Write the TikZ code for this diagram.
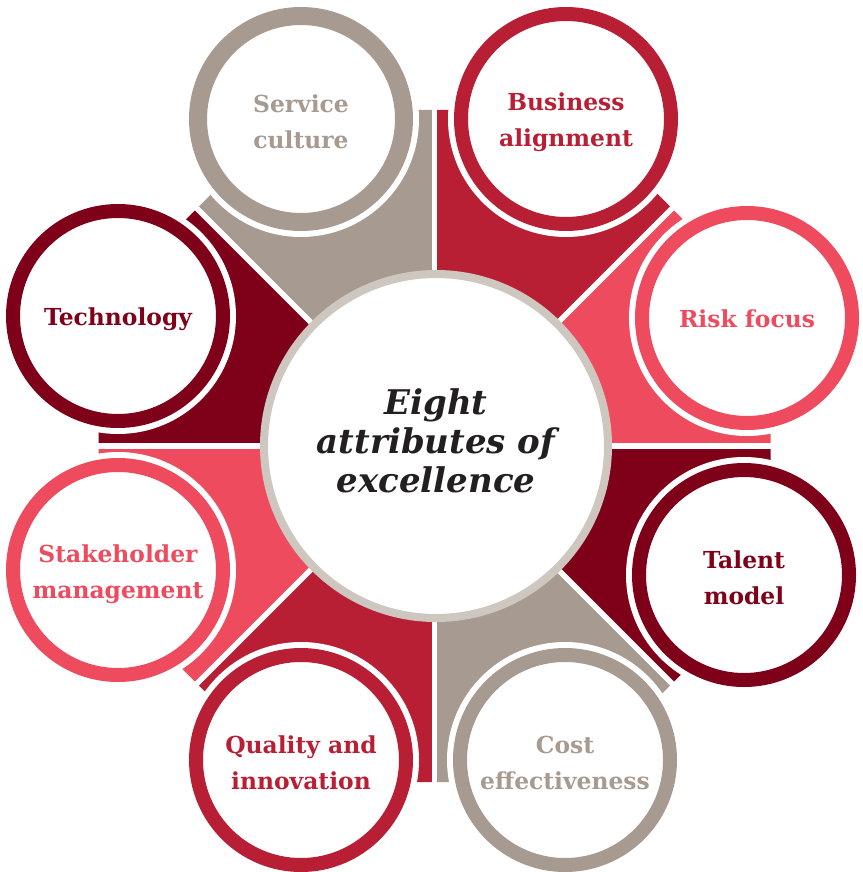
\documentclass[tikz,border=0pt]{standalone}
\usepackage{fontspec}
\setmainfont{DejaVu Serif}
\definecolor{attrgrey}{HTML}{A69A91}
\definecolor{attrred}{HTML}{B81F34}
\definecolor{attrpink}{HTML}{EE4B5E}
\definecolor{attrdark}{HTML}{7F0019}
\definecolor{hubrim}{HTML}{CDC7C0}
\definecolor{hubtext}{HTML}{231F20}
\tikzset{
  satellite/.style={circle, inner sep=0pt, minimum size=210pt, line width=14pt,
    draw=#1, fill=white,
    preaction={draw=white, line width=26pt}},
  thickrim/.style={minimum size=206pt, line width=18pt,
    preaction={draw=white, line width=30pt}},
  attrlabel/.style={inner sep=0pt, text=#1, align=center,
    font=\bfseries\fontsize{23.4}{36}\selectfont},
  hub/.style={circle, inner sep=0pt, minimum size=344pt, line width=8pt,
    draw=hubrim, fill=white},
  hublabel/.style={inner sep=0pt, text=hubtext, align=center,
    font=\bfseries\itshape\fontsize{34}{39}\selectfont},
  divider/.style={white, line width=5.5pt}
}
\begin{document}
\begin{tikzpicture}[x=1pt, y=-1pt]
\useasboundingbox (0,0) rectangle (862,872);
\coordinate (C) at (434.5,446);
% coloured sectors behind the circles, one per 45 degrees
\foreach \a/\col in {0/attrpink, 45/attrred, 90/attrgrey, 135/attrdark,
                     180/attrpink, 225/attrred, 270/attrgrey, 315/attrdark}{
  \fill[\col] (C) -- +(-\a:336) -- +(-\a-22.5:363.7) -- +(-\a-45:336) -- cycle;
}
% white separators between the sectors
\foreach \a in {0,45,...,315}{
  \draw[divider] (C) -- +(-\a:345);
}
% central hub
\node[hub] (hub) at (436,446) {};
\node[hublabel] (hubtitle) at ([yshift=5pt]hub.center) {Eight\\attributes of\\excellence};
% the eight attribute rings
\node[satellite=attrgrey, thickrim] (service) at (301,119) {};
\node[satellite=attrred] (business) at (566,119) {};
\node[satellite=attrpink] (risk) at (747,318) {};
\node[satellite=attrdark] (talent) at (744,575) {};
\node[satellite=attrgrey] (cost) at (565,760) {};
\node[satellite=attrred] (quality) at (301,760) {};
\node[satellite=attrpink] (stakeholder) at (118,570) {};
\node[satellite=attrdark] (technology) at (118,316) {};
% their names
\node[attrlabel=attrgrey] (service-name) at ([yshift=-3pt]service.center) {Service\\culture};
\node[attrlabel=attrred] (business-name) at ([yshift=-3pt]business.center) {Business\\alignment};
\node[attrlabel=attrpink] (risk-name) at ([yshift=-1pt]risk.center) {Risk focus};
\node[attrlabel=attrdark] (talent-name) at ([yshift=-3pt]talent.center) {Talent\\model};
\node[attrlabel=attrgrey] (cost-name) at ([yshift=-3pt]cost.center) {Cost\\effectiveness};
\node[attrlabel=attrred] (quality-name) at ([yshift=-3pt]quality.center) {Quality and\\innovation};
\node[attrlabel=attrpink] (stakeholder-name) at ([yshift=-4pt]stakeholder.center) {Stakeholder\\management};
\node[attrlabel=attrdark] (technology-name) at ([yshift=-3pt]technology.center) {Technology};
\end{tikzpicture}
\end{document}
